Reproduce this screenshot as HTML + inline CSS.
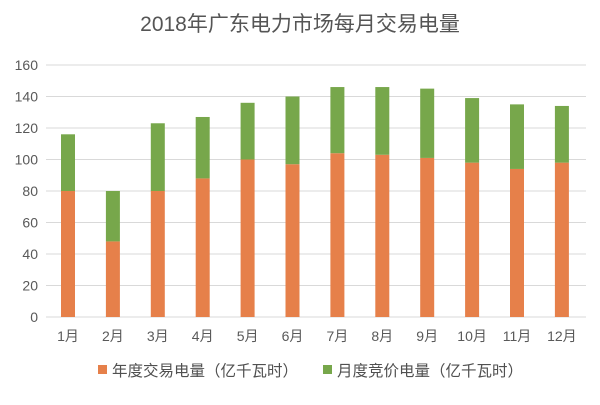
<!DOCTYPE html>
<html><head><meta charset="utf-8"><style>
body{margin:0;background:#fff;}
svg text{font-family:"Liberation Sans","Noto Sans CJK SC",sans-serif;}
</style></head><body>
<svg width="600" height="400" xmlns="http://www.w3.org/2000/svg">
<rect width="600" height="400" fill="#fff"/>
<text x="300" y="31" text-anchor="middle" font-size="21" fill="#555">2018年广东电力市场每月交易电量</text>
<g stroke="#d9d9d9" stroke-width="1">
<line x1="46" x2="586" y1="65" y2="65"/><line x1="46" x2="586" y1="96.5" y2="96.5"/>
<line x1="46" x2="586" y1="128" y2="128"/><line x1="46" x2="586" y1="159.5" y2="159.5"/>
<line x1="46" x2="586" y1="191" y2="191"/><line x1="46" x2="586" y1="222.5" y2="222.5"/>
<line x1="46" x2="586" y1="254" y2="254"/><line x1="46" x2="586" y1="285.5" y2="285.5"/>
<line x1="46" x2="586" y1="317" y2="317"/>
</g>
<g font-size="14" fill="#595959" text-anchor="end">
<text x="38" y="70">160</text><text x="38" y="101.5">140</text><text x="38" y="133">120</text>
<text x="38" y="164.5">100</text><text x="38" y="196">80</text><text x="38" y="227.5">60</text>
<text x="38" y="259">40</text><text x="38" y="290.5">20</text><text x="38" y="322">0</text>
</g>
<g id="bars"></g>
<g font-size="14" fill="#595959" text-anchor="middle" id="xl"></g>
<rect x="98" y="365" width="9" height="9" fill="#e6804a"/>
<text x="112" y="376" font-size="15.5" fill="#505050">年度交易电量（亿千瓦时）</text>
<rect x="323" y="365" width="9" height="9" fill="#77a74b"/>
<text x="337" y="376" font-size="15.5" fill="#505050">月度竞价电量（亿千瓦时）</text>
<script>
var o=[80,48,80,88,100,97,104,103,101,98,94,98],t=[116,80,123,127,136,140,146,146,145,139,135,134];
var b=document.getElementById('bars'),xl=document.getElementById('xl'),ns="http://www.w3.org/2000/svg";
function y(v){return 317-v*252/160;}
for(var i=0;i<12;i++){var x=61+i*44.9;
var r=document.createElementNS(ns,'rect');r.setAttribute('x',x);r.setAttribute('width',14);r.setAttribute('y',y(o[i]));r.setAttribute('height',317-y(o[i]));r.setAttribute('fill','#e6804a');b.appendChild(r);
r=document.createElementNS(ns,'rect');r.setAttribute('x',x);r.setAttribute('width',14);r.setAttribute('y',y(t[i]));r.setAttribute('height',y(o[i])-y(t[i]));r.setAttribute('fill','#77a74b');b.appendChild(r);
var tx=document.createElementNS(ns,'text');tx.setAttribute('x',x+7);tx.setAttribute('y',341);tx.textContent=(i+1)+'月';xl.appendChild(tx);}
</script>
</svg>
</body></html>
